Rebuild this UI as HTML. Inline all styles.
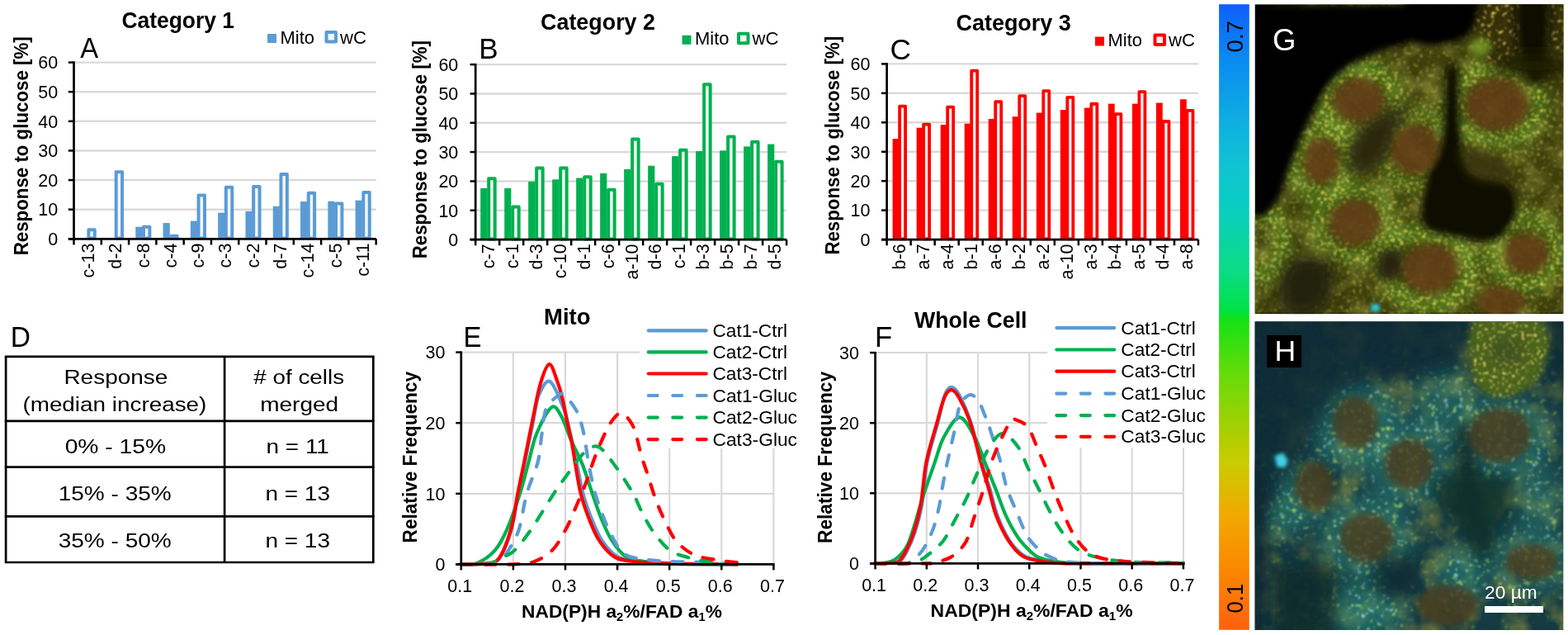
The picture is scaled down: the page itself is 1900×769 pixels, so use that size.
<!DOCTYPE html>
<html><head><meta charset="utf-8"><title>Figure</title>
<style>html,body{margin:0;padding:0;background:#fff;} svg{display:block;}</style>
</head><body>
<svg width="1900" height="769" viewBox="0 0 1900 769" font-family="'Liberation Sans', sans-serif">
<rect width="1900" height="769" fill="#fff"/>
<line x1="90.80" y1="253.68" x2="455.70" y2="253.68" stroke="#d9d9d9" stroke-width="2.4"/>
<line x1="90.80" y1="218.06" x2="455.70" y2="218.06" stroke="#d9d9d9" stroke-width="2.4"/>
<line x1="90.80" y1="182.44" x2="455.70" y2="182.44" stroke="#d9d9d9" stroke-width="2.4"/>
<line x1="90.80" y1="146.82" x2="455.70" y2="146.82" stroke="#d9d9d9" stroke-width="2.4"/>
<line x1="90.80" y1="111.20" x2="455.70" y2="111.20" stroke="#d9d9d9" stroke-width="2.4"/>
<line x1="90.80" y1="75.58" x2="455.70" y2="75.58" stroke="#d9d9d9" stroke-width="2.4"/>
<rect x="107.40" y="278.30" width="7.40" height="10.30" fill="#f4f8fd" stroke="#5b9bd5" stroke-width="4.0" stroke-linejoin="round"/>
<rect x="140.69" y="208.13" width="7.40" height="80.47" fill="#f4f8fd" stroke="#5b9bd5" stroke-width="4.0" stroke-linejoin="round"/>
<rect x="164.28" y="274.70" width="8.20" height="14.60" fill="#5b9bd5"/>
<rect x="173.98" y="274.74" width="7.40" height="13.86" fill="#f4f8fd" stroke="#5b9bd5" stroke-width="4.0" stroke-linejoin="round"/>
<rect x="197.57" y="270.07" width="8.20" height="19.23" fill="#5b9bd5"/>
<rect x="207.27" y="285.78" width="7.40" height="2.82" fill="#f4f8fd" stroke="#5b9bd5" stroke-width="4.0" stroke-linejoin="round"/>
<rect x="230.86" y="267.57" width="8.20" height="21.73" fill="#5b9bd5"/>
<rect x="240.56" y="236.62" width="7.40" height="51.98" fill="#f4f8fd" stroke="#5b9bd5" stroke-width="4.0" stroke-linejoin="round"/>
<rect x="264.15" y="257.60" width="8.20" height="31.70" fill="#5b9bd5"/>
<rect x="273.85" y="226.65" width="7.40" height="61.95" fill="#f4f8fd" stroke="#5b9bd5" stroke-width="4.0" stroke-linejoin="round"/>
<rect x="297.45" y="255.82" width="8.20" height="33.48" fill="#5b9bd5"/>
<rect x="307.15" y="225.94" width="7.40" height="62.66" fill="#f4f8fd" stroke="#5b9bd5" stroke-width="4.0" stroke-linejoin="round"/>
<rect x="330.74" y="249.76" width="8.20" height="39.54" fill="#5b9bd5"/>
<rect x="340.44" y="210.98" width="7.40" height="77.62" fill="#f4f8fd" stroke="#5b9bd5" stroke-width="4.0" stroke-linejoin="round"/>
<rect x="364.03" y="244.06" width="8.20" height="45.24" fill="#5b9bd5"/>
<rect x="373.73" y="233.77" width="7.40" height="54.83" fill="#f4f8fd" stroke="#5b9bd5" stroke-width="4.0" stroke-linejoin="round"/>
<rect x="397.32" y="243.71" width="8.20" height="45.59" fill="#5b9bd5"/>
<rect x="407.02" y="246.60" width="7.40" height="42.00" fill="#f4f8fd" stroke="#5b9bd5" stroke-width="4.0" stroke-linejoin="round"/>
<rect x="430.61" y="242.64" width="8.20" height="46.66" fill="#5b9bd5"/>
<rect x="440.31" y="233.06" width="7.40" height="55.54" fill="#f4f8fd" stroke="#5b9bd5" stroke-width="4.0" stroke-linejoin="round"/>
<line x1="89.50" y1="74.38" x2="89.50" y2="290.60" stroke="#000" stroke-width="2.7"/>
<line x1="82.80" y1="289.30" x2="455.70" y2="289.30" stroke="#000" stroke-width="2.7"/>
<line x1="82.80" y1="289.30" x2="89.50" y2="289.30" stroke="#000" stroke-width="2.5"/>
<text x="70.2" y="297.0" font-size="21.5" text-anchor="end">0</text>
<line x1="82.80" y1="253.68" x2="89.50" y2="253.68" stroke="#000" stroke-width="2.5"/>
<text x="70.2" y="261.4" font-size="21.5" text-anchor="end">10</text>
<line x1="82.80" y1="218.06" x2="89.50" y2="218.06" stroke="#000" stroke-width="2.5"/>
<text x="70.2" y="225.8" font-size="21.5" text-anchor="end">20</text>
<line x1="82.80" y1="182.44" x2="89.50" y2="182.44" stroke="#000" stroke-width="2.5"/>
<text x="70.2" y="190.1" font-size="21.5" text-anchor="end">30</text>
<line x1="82.80" y1="146.82" x2="89.50" y2="146.82" stroke="#000" stroke-width="2.5"/>
<text x="70.2" y="154.5" font-size="21.5" text-anchor="end">40</text>
<line x1="82.80" y1="111.20" x2="89.50" y2="111.20" stroke="#000" stroke-width="2.5"/>
<text x="70.2" y="118.9" font-size="21.5" text-anchor="end">50</text>
<line x1="82.80" y1="75.58" x2="89.50" y2="75.58" stroke="#000" stroke-width="2.5"/>
<text x="70.2" y="83.3" font-size="21.5" text-anchor="end">60</text>
<line x1="89.50" y1="289.30" x2="89.50" y2="296.50" stroke="#000" stroke-width="2.5"/>
<line x1="122.79" y1="289.30" x2="122.79" y2="296.50" stroke="#000" stroke-width="2.5"/>
<line x1="156.08" y1="289.30" x2="156.08" y2="296.50" stroke="#000" stroke-width="2.5"/>
<line x1="189.37" y1="289.30" x2="189.37" y2="296.50" stroke="#000" stroke-width="2.5"/>
<line x1="222.66" y1="289.30" x2="222.66" y2="296.50" stroke="#000" stroke-width="2.5"/>
<line x1="255.95" y1="289.30" x2="255.95" y2="296.50" stroke="#000" stroke-width="2.5"/>
<line x1="289.25" y1="289.30" x2="289.25" y2="296.50" stroke="#000" stroke-width="2.5"/>
<line x1="322.54" y1="289.30" x2="322.54" y2="296.50" stroke="#000" stroke-width="2.5"/>
<line x1="355.83" y1="289.30" x2="355.83" y2="296.50" stroke="#000" stroke-width="2.5"/>
<line x1="389.12" y1="289.30" x2="389.12" y2="296.50" stroke="#000" stroke-width="2.5"/>
<line x1="422.41" y1="289.30" x2="422.41" y2="296.50" stroke="#000" stroke-width="2.5"/>
<line x1="455.70" y1="289.30" x2="455.70" y2="296.50" stroke="#000" stroke-width="2.5"/>
<text x="114.0" y="294.6" font-size="21.5" text-anchor="end" transform="rotate(-90 114.0 294.6)">c-13</text>
<text x="147.3" y="294.6" font-size="21.5" text-anchor="end" transform="rotate(-90 147.3 294.6)">d-2</text>
<text x="180.6" y="294.6" font-size="21.5" text-anchor="end" transform="rotate(-90 180.6 294.6)">c-8</text>
<text x="213.9" y="294.6" font-size="21.5" text-anchor="end" transform="rotate(-90 213.9 294.6)">c-4</text>
<text x="247.2" y="294.6" font-size="21.5" text-anchor="end" transform="rotate(-90 247.2 294.6)">c-9</text>
<text x="280.5" y="294.6" font-size="21.5" text-anchor="end" transform="rotate(-90 280.5 294.6)">c-3</text>
<text x="313.8" y="294.6" font-size="21.5" text-anchor="end" transform="rotate(-90 313.8 294.6)">c-2</text>
<text x="347.1" y="294.6" font-size="21.5" text-anchor="end" transform="rotate(-90 347.1 294.6)">d-7</text>
<text x="380.4" y="294.6" font-size="21.5" text-anchor="end" transform="rotate(-90 380.4 294.6)">c-14</text>
<text x="413.7" y="294.6" font-size="21.5" text-anchor="end" transform="rotate(-90 413.7 294.6)">c-5</text>
<text x="447.0" y="294.6" font-size="21.5" text-anchor="end" transform="rotate(-90 447.0 294.6)">c-11</text>
<text x="34.2" y="309.3" font-size="23.5" text-anchor="start" font-weight="bold" textLength="265.0" lengthAdjust="spacingAndGlyphs" transform="rotate(-90 34.2 309.3)">Response to glucose [%]</text>
<text x="97.3" y="70.4" font-size="35.5" text-anchor="start" textLength="21.9" lengthAdjust="spacingAndGlyphs">A</text>
<text x="147.5" y="34.4" font-size="27" text-anchor="start" font-weight="bold" textLength="136.5" lengthAdjust="spacingAndGlyphs">Category 1</text>
<rect x="324.0" y="41.0" width="11" height="11" fill="#5b9bd5"/>
<text x="339.5" y="52.5" font-size="22.5" text-anchor="start" textLength="41.5" lengthAdjust="spacingAndGlyphs">Mito</text>
<rect x="395.5" y="39.0" width="11.5" height="11.5" fill="#f4f8fd" stroke="#5b9bd5" stroke-width="4" stroke-linejoin="round"/>
<text x="412.0" y="52.5" font-size="22.5" text-anchor="start" textLength="32.0" lengthAdjust="spacingAndGlyphs">wC</text>
<line x1="577.50" y1="254.77" x2="953.10" y2="254.77" stroke="#d9d9d9" stroke-width="2.4"/>
<line x1="577.50" y1="219.44" x2="953.10" y2="219.44" stroke="#d9d9d9" stroke-width="2.4"/>
<line x1="577.50" y1="184.11" x2="953.10" y2="184.11" stroke="#d9d9d9" stroke-width="2.4"/>
<line x1="577.50" y1="148.78" x2="953.10" y2="148.78" stroke="#d9d9d9" stroke-width="2.4"/>
<line x1="577.50" y1="113.45" x2="953.10" y2="113.45" stroke="#d9d9d9" stroke-width="2.4"/>
<line x1="577.50" y1="78.12" x2="953.10" y2="78.12" stroke="#d9d9d9" stroke-width="2.4"/>
<rect x="582.20" y="227.92" width="8.20" height="62.18" fill="#00b050"/>
<rect x="592.20" y="216.32" width="7.50" height="73.08" fill="#f2fcf2" stroke="#00b050" stroke-width="4.0" stroke-linejoin="round"/>
<rect x="611.19" y="227.92" width="8.20" height="62.18" fill="#00b050"/>
<rect x="621.19" y="250.59" width="7.50" height="38.81" fill="#f2fcf2" stroke="#00b050" stroke-width="4.0" stroke-linejoin="round"/>
<rect x="640.18" y="219.79" width="8.20" height="70.31" fill="#00b050"/>
<rect x="650.18" y="203.60" width="7.50" height="85.80" fill="#f2fcf2" stroke="#00b050" stroke-width="4.0" stroke-linejoin="round"/>
<rect x="669.18" y="217.32" width="8.20" height="72.78" fill="#00b050"/>
<rect x="679.18" y="203.60" width="7.50" height="85.80" fill="#f2fcf2" stroke="#00b050" stroke-width="4.0" stroke-linejoin="round"/>
<rect x="698.17" y="215.55" width="8.20" height="74.55" fill="#00b050"/>
<rect x="708.17" y="214.20" width="7.50" height="75.20" fill="#f2fcf2" stroke="#00b050" stroke-width="4.0" stroke-linejoin="round"/>
<rect x="727.16" y="209.90" width="8.20" height="80.20" fill="#00b050"/>
<rect x="737.16" y="229.74" width="7.50" height="59.66" fill="#f2fcf2" stroke="#00b050" stroke-width="4.0" stroke-linejoin="round"/>
<rect x="756.15" y="204.95" width="8.20" height="85.15" fill="#00b050"/>
<rect x="766.15" y="168.62" width="7.50" height="120.78" fill="#f2fcf2" stroke="#00b050" stroke-width="4.0" stroke-linejoin="round"/>
<rect x="785.15" y="200.72" width="8.20" height="89.38" fill="#00b050"/>
<rect x="795.15" y="222.68" width="7.50" height="66.72" fill="#f2fcf2" stroke="#00b050" stroke-width="4.0" stroke-linejoin="round"/>
<rect x="814.14" y="189.06" width="8.20" height="101.04" fill="#00b050"/>
<rect x="824.14" y="181.69" width="7.50" height="107.71" fill="#f2fcf2" stroke="#00b050" stroke-width="4.0" stroke-linejoin="round"/>
<rect x="843.13" y="183.05" width="8.20" height="107.05" fill="#00b050"/>
<rect x="853.13" y="102.20" width="7.50" height="187.20" fill="#f2fcf2" stroke="#00b050" stroke-width="4.0" stroke-linejoin="round"/>
<rect x="872.12" y="182.34" width="8.20" height="107.76" fill="#00b050"/>
<rect x="882.12" y="165.44" width="7.50" height="123.96" fill="#f2fcf2" stroke="#00b050" stroke-width="4.0" stroke-linejoin="round"/>
<rect x="901.12" y="177.40" width="8.20" height="112.70" fill="#00b050"/>
<rect x="911.12" y="171.80" width="7.50" height="117.60" fill="#f2fcf2" stroke="#00b050" stroke-width="4.0" stroke-linejoin="round"/>
<rect x="930.11" y="174.57" width="8.20" height="115.53" fill="#00b050"/>
<rect x="940.11" y="195.83" width="7.50" height="93.57" fill="#f2fcf2" stroke="#00b050" stroke-width="4.0" stroke-linejoin="round"/>
<line x1="576.20" y1="76.92" x2="576.20" y2="291.40" stroke="#000" stroke-width="2.7"/>
<line x1="569.60" y1="290.10" x2="953.10" y2="290.10" stroke="#000" stroke-width="2.7"/>
<line x1="569.60" y1="290.10" x2="576.20" y2="290.10" stroke="#000" stroke-width="2.5"/>
<text x="555.3" y="297.8" font-size="21.5" text-anchor="end">0</text>
<line x1="569.60" y1="254.77" x2="576.20" y2="254.77" stroke="#000" stroke-width="2.5"/>
<text x="555.3" y="262.5" font-size="21.5" text-anchor="end">10</text>
<line x1="569.60" y1="219.44" x2="576.20" y2="219.44" stroke="#000" stroke-width="2.5"/>
<text x="555.3" y="227.1" font-size="21.5" text-anchor="end">20</text>
<line x1="569.60" y1="184.11" x2="576.20" y2="184.11" stroke="#000" stroke-width="2.5"/>
<text x="555.3" y="191.8" font-size="21.5" text-anchor="end">30</text>
<line x1="569.60" y1="148.78" x2="576.20" y2="148.78" stroke="#000" stroke-width="2.5"/>
<text x="555.3" y="156.5" font-size="21.5" text-anchor="end">40</text>
<line x1="569.60" y1="113.45" x2="576.20" y2="113.45" stroke="#000" stroke-width="2.5"/>
<text x="555.3" y="121.2" font-size="21.5" text-anchor="end">50</text>
<line x1="569.60" y1="78.12" x2="576.20" y2="78.12" stroke="#000" stroke-width="2.5"/>
<text x="555.3" y="85.8" font-size="21.5" text-anchor="end">60</text>
<line x1="576.20" y1="290.10" x2="576.20" y2="297.30" stroke="#000" stroke-width="2.5"/>
<line x1="605.19" y1="290.10" x2="605.19" y2="297.30" stroke="#000" stroke-width="2.5"/>
<line x1="634.18" y1="290.10" x2="634.18" y2="297.30" stroke="#000" stroke-width="2.5"/>
<line x1="663.18" y1="290.10" x2="663.18" y2="297.30" stroke="#000" stroke-width="2.5"/>
<line x1="692.17" y1="290.10" x2="692.17" y2="297.30" stroke="#000" stroke-width="2.5"/>
<line x1="721.16" y1="290.10" x2="721.16" y2="297.30" stroke="#000" stroke-width="2.5"/>
<line x1="750.15" y1="290.10" x2="750.15" y2="297.30" stroke="#000" stroke-width="2.5"/>
<line x1="779.15" y1="290.10" x2="779.15" y2="297.30" stroke="#000" stroke-width="2.5"/>
<line x1="808.14" y1="290.10" x2="808.14" y2="297.30" stroke="#000" stroke-width="2.5"/>
<line x1="837.13" y1="290.10" x2="837.13" y2="297.30" stroke="#000" stroke-width="2.5"/>
<line x1="866.12" y1="290.10" x2="866.12" y2="297.30" stroke="#000" stroke-width="2.5"/>
<line x1="895.12" y1="290.10" x2="895.12" y2="297.30" stroke="#000" stroke-width="2.5"/>
<line x1="924.11" y1="290.10" x2="924.11" y2="297.30" stroke="#000" stroke-width="2.5"/>
<line x1="953.10" y1="290.10" x2="953.10" y2="297.30" stroke="#000" stroke-width="2.5"/>
<text x="598.6" y="295.4" font-size="21.5" text-anchor="end" transform="rotate(-90 598.6 295.4)">c-7</text>
<text x="627.6" y="295.4" font-size="21.5" text-anchor="end" transform="rotate(-90 627.6 295.4)">c-1</text>
<text x="656.6" y="295.4" font-size="21.5" text-anchor="end" transform="rotate(-90 656.6 295.4)">d-3</text>
<text x="685.6" y="295.4" font-size="21.5" text-anchor="end" transform="rotate(-90 685.6 295.4)">c-10</text>
<text x="714.6" y="295.4" font-size="21.5" text-anchor="end" transform="rotate(-90 714.6 295.4)">d-1</text>
<text x="743.6" y="295.4" font-size="21.5" text-anchor="end" transform="rotate(-90 743.6 295.4)">c-6</text>
<text x="772.6" y="295.4" font-size="21.5" text-anchor="end" transform="rotate(-90 772.6 295.4)">a-10</text>
<text x="801.5" y="295.4" font-size="21.5" text-anchor="end" transform="rotate(-90 801.5 295.4)">d-6</text>
<text x="830.5" y="295.4" font-size="21.5" text-anchor="end" transform="rotate(-90 830.5 295.4)">c-1</text>
<text x="859.5" y="295.4" font-size="21.5" text-anchor="end" transform="rotate(-90 859.5 295.4)">b-3</text>
<text x="888.5" y="295.4" font-size="21.5" text-anchor="end" transform="rotate(-90 888.5 295.4)">b-5</text>
<text x="917.5" y="295.4" font-size="21.5" text-anchor="end" transform="rotate(-90 917.5 295.4)">b-7</text>
<text x="946.5" y="295.4" font-size="21.5" text-anchor="end" transform="rotate(-90 946.5 295.4)">d-5</text>
<text x="517.0" y="313.2" font-size="23.5" text-anchor="start" font-weight="bold" textLength="264.0" lengthAdjust="spacingAndGlyphs" transform="rotate(-90 517.0 313.2)">Response to glucose [%]</text>
<text x="580.3" y="71.4" font-size="35.5" text-anchor="start" textLength="23.4" lengthAdjust="spacingAndGlyphs">B</text>
<text x="655.0" y="36.0" font-size="27" text-anchor="start" font-weight="bold" textLength="139.0" lengthAdjust="spacingAndGlyphs">Category 2</text>
<rect x="826.5" y="42.8" width="11" height="11" fill="#00b050"/>
<text x="842.0" y="54.3" font-size="22.5" text-anchor="start" textLength="41.5" lengthAdjust="spacingAndGlyphs">Mito</text>
<rect x="895.0" y="40.8" width="11.5" height="11.5" fill="#f2fcf2" stroke="#00b050" stroke-width="4" stroke-linejoin="round"/>
<text x="911.5" y="54.3" font-size="22.5" text-anchor="start" textLength="32.0" lengthAdjust="spacingAndGlyphs">wC</text>
<line x1="1075.90" y1="254.65" x2="1452.00" y2="254.65" stroke="#d9d9d9" stroke-width="2.4"/>
<line x1="1075.90" y1="219.20" x2="1452.00" y2="219.20" stroke="#d9d9d9" stroke-width="2.4"/>
<line x1="1075.90" y1="183.75" x2="1452.00" y2="183.75" stroke="#d9d9d9" stroke-width="2.4"/>
<line x1="1075.90" y1="148.30" x2="1452.00" y2="148.30" stroke="#d9d9d9" stroke-width="2.4"/>
<line x1="1075.90" y1="112.85" x2="1452.00" y2="112.85" stroke="#d9d9d9" stroke-width="2.4"/>
<line x1="1075.90" y1="77.40" x2="1452.00" y2="77.40" stroke="#d9d9d9" stroke-width="2.4"/>
<rect x="1081.60" y="168.15" width="7.80" height="121.95" fill="#ff0000"/>
<rect x="1090.10" y="128.58" width="7.00" height="160.82" fill="#fff6f4" stroke="#ff0000" stroke-width="3.8" stroke-linejoin="round"/>
<rect x="1110.63" y="154.68" width="7.80" height="135.42" fill="#ff0000"/>
<rect x="1119.13" y="150.55" width="7.00" height="138.85" fill="#fff6f4" stroke="#ff0000" stroke-width="3.8" stroke-linejoin="round"/>
<rect x="1139.66" y="151.14" width="7.80" height="138.96" fill="#ff0000"/>
<rect x="1148.16" y="129.64" width="7.00" height="159.76" fill="#fff6f4" stroke="#ff0000" stroke-width="3.8" stroke-linejoin="round"/>
<rect x="1168.69" y="149.72" width="7.80" height="140.38" fill="#ff0000"/>
<rect x="1177.19" y="85.68" width="7.00" height="203.72" fill="#fff6f4" stroke="#ff0000" stroke-width="3.8" stroke-linejoin="round"/>
<rect x="1197.72" y="144.05" width="7.80" height="146.05" fill="#ff0000"/>
<rect x="1206.22" y="123.26" width="7.00" height="166.14" fill="#fff6f4" stroke="#ff0000" stroke-width="3.8" stroke-linejoin="round"/>
<rect x="1226.75" y="141.21" width="7.80" height="148.89" fill="#ff0000"/>
<rect x="1235.25" y="116.17" width="7.00" height="173.23" fill="#fff6f4" stroke="#ff0000" stroke-width="3.8" stroke-linejoin="round"/>
<rect x="1255.78" y="136.60" width="7.80" height="153.50" fill="#ff0000"/>
<rect x="1264.28" y="110.14" width="7.00" height="179.26" fill="#fff6f4" stroke="#ff0000" stroke-width="3.8" stroke-linejoin="round"/>
<rect x="1284.82" y="133.06" width="7.80" height="157.04" fill="#ff0000"/>
<rect x="1293.32" y="117.94" width="7.00" height="171.46" fill="#fff6f4" stroke="#ff0000" stroke-width="3.8" stroke-linejoin="round"/>
<rect x="1313.85" y="130.58" width="7.80" height="159.53" fill="#ff0000"/>
<rect x="1322.35" y="125.74" width="7.00" height="163.66" fill="#fff6f4" stroke="#ff0000" stroke-width="3.8" stroke-linejoin="round"/>
<rect x="1342.88" y="125.61" width="7.80" height="164.49" fill="#ff0000"/>
<rect x="1351.38" y="138.15" width="7.00" height="151.25" fill="#fff6f4" stroke="#ff0000" stroke-width="3.8" stroke-linejoin="round"/>
<rect x="1371.91" y="125.61" width="7.80" height="164.49" fill="#ff0000"/>
<rect x="1380.41" y="111.21" width="7.00" height="178.19" fill="#fff6f4" stroke="#ff0000" stroke-width="3.8" stroke-linejoin="round"/>
<rect x="1400.94" y="124.55" width="7.80" height="165.55" fill="#ff0000"/>
<rect x="1409.44" y="147.01" width="7.00" height="142.39" fill="#fff6f4" stroke="#ff0000" stroke-width="3.8" stroke-linejoin="round"/>
<rect x="1429.97" y="120.29" width="7.80" height="169.81" fill="#ff0000"/>
<rect x="1438.47" y="133.89" width="7.00" height="155.51" fill="#fff6f4" stroke="#ff0000" stroke-width="3.8" stroke-linejoin="round"/>
<line x1="1074.60" y1="76.20" x2="1074.60" y2="291.40" stroke="#000" stroke-width="2.7"/>
<line x1="1068.00" y1="290.10" x2="1452.00" y2="290.10" stroke="#000" stroke-width="2.7"/>
<line x1="1068.00" y1="290.10" x2="1074.60" y2="290.10" stroke="#000" stroke-width="2.5"/>
<text x="1054.4" y="297.8" font-size="21.5" text-anchor="end">0</text>
<line x1="1068.00" y1="254.65" x2="1074.60" y2="254.65" stroke="#000" stroke-width="2.5"/>
<text x="1054.4" y="262.4" font-size="21.5" text-anchor="end">10</text>
<line x1="1068.00" y1="219.20" x2="1074.60" y2="219.20" stroke="#000" stroke-width="2.5"/>
<text x="1054.4" y="226.9" font-size="21.5" text-anchor="end">20</text>
<line x1="1068.00" y1="183.75" x2="1074.60" y2="183.75" stroke="#000" stroke-width="2.5"/>
<text x="1054.4" y="191.5" font-size="21.5" text-anchor="end">30</text>
<line x1="1068.00" y1="148.30" x2="1074.60" y2="148.30" stroke="#000" stroke-width="2.5"/>
<text x="1054.4" y="156.0" font-size="21.5" text-anchor="end">40</text>
<line x1="1068.00" y1="112.85" x2="1074.60" y2="112.85" stroke="#000" stroke-width="2.5"/>
<text x="1054.4" y="120.6" font-size="21.5" text-anchor="end">50</text>
<line x1="1068.00" y1="77.40" x2="1074.60" y2="77.40" stroke="#000" stroke-width="2.5"/>
<text x="1054.4" y="85.1" font-size="21.5" text-anchor="end">60</text>
<line x1="1074.60" y1="290.10" x2="1074.60" y2="297.30" stroke="#000" stroke-width="2.5"/>
<line x1="1103.63" y1="290.10" x2="1103.63" y2="297.30" stroke="#000" stroke-width="2.5"/>
<line x1="1132.66" y1="290.10" x2="1132.66" y2="297.30" stroke="#000" stroke-width="2.5"/>
<line x1="1161.69" y1="290.10" x2="1161.69" y2="297.30" stroke="#000" stroke-width="2.5"/>
<line x1="1190.72" y1="290.10" x2="1190.72" y2="297.30" stroke="#000" stroke-width="2.5"/>
<line x1="1219.75" y1="290.10" x2="1219.75" y2="297.30" stroke="#000" stroke-width="2.5"/>
<line x1="1248.78" y1="290.10" x2="1248.78" y2="297.30" stroke="#000" stroke-width="2.5"/>
<line x1="1277.82" y1="290.10" x2="1277.82" y2="297.30" stroke="#000" stroke-width="2.5"/>
<line x1="1306.85" y1="290.10" x2="1306.85" y2="297.30" stroke="#000" stroke-width="2.5"/>
<line x1="1335.88" y1="290.10" x2="1335.88" y2="297.30" stroke="#000" stroke-width="2.5"/>
<line x1="1364.91" y1="290.10" x2="1364.91" y2="297.30" stroke="#000" stroke-width="2.5"/>
<line x1="1393.94" y1="290.10" x2="1393.94" y2="297.30" stroke="#000" stroke-width="2.5"/>
<line x1="1422.97" y1="290.10" x2="1422.97" y2="297.30" stroke="#000" stroke-width="2.5"/>
<line x1="1452.00" y1="290.10" x2="1452.00" y2="297.30" stroke="#000" stroke-width="2.5"/>
<text x="1097.0" y="295.4" font-size="21.5" text-anchor="end" transform="rotate(-90 1097.0 295.4)">b-6</text>
<text x="1126.0" y="295.4" font-size="21.5" text-anchor="end" transform="rotate(-90 1126.0 295.4)">a-7</text>
<text x="1155.1" y="295.4" font-size="21.5" text-anchor="end" transform="rotate(-90 1155.1 295.4)">a-4</text>
<text x="1184.1" y="295.4" font-size="21.5" text-anchor="end" transform="rotate(-90 1184.1 295.4)">b-1</text>
<text x="1213.1" y="295.4" font-size="21.5" text-anchor="end" transform="rotate(-90 1213.1 295.4)">a-6</text>
<text x="1242.2" y="295.4" font-size="21.5" text-anchor="end" transform="rotate(-90 1242.2 295.4)">b-2</text>
<text x="1271.2" y="295.4" font-size="21.5" text-anchor="end" transform="rotate(-90 1271.2 295.4)">a-2</text>
<text x="1300.2" y="295.4" font-size="21.5" text-anchor="end" transform="rotate(-90 1300.2 295.4)">a-10</text>
<text x="1329.3" y="295.4" font-size="21.5" text-anchor="end" transform="rotate(-90 1329.3 295.4)">a-3</text>
<text x="1358.3" y="295.4" font-size="21.5" text-anchor="end" transform="rotate(-90 1358.3 295.4)">b-4</text>
<text x="1387.3" y="295.4" font-size="21.5" text-anchor="end" transform="rotate(-90 1387.3 295.4)">a-5</text>
<text x="1416.4" y="295.4" font-size="21.5" text-anchor="end" transform="rotate(-90 1416.4 295.4)">d-4</text>
<text x="1445.4" y="295.4" font-size="21.5" text-anchor="end" transform="rotate(-90 1445.4 295.4)">a-8</text>
<text x="1017.0" y="308.6" font-size="23.5" text-anchor="start" font-weight="bold" textLength="264.8" lengthAdjust="spacingAndGlyphs" transform="rotate(-90 1017.0 308.6)">Response to glucose [%]</text>
<text x="1078.5" y="72.2" font-size="35.5" text-anchor="start" textLength="25.4" lengthAdjust="spacingAndGlyphs">C</text>
<text x="1158.4" y="36.5" font-size="27" text-anchor="start" font-weight="bold" textLength="139.5" lengthAdjust="spacingAndGlyphs">Category 3</text>
<rect x="1327.0" y="44.5" width="11" height="11" fill="#ff0000"/>
<text x="1342.5" y="56.0" font-size="22.5" text-anchor="start" textLength="41.5" lengthAdjust="spacingAndGlyphs">Mito</text>
<rect x="1399.5" y="42.5" width="11.5" height="11.5" fill="#fff6f4" stroke="#ff0000" stroke-width="4" stroke-linejoin="round"/>
<text x="1416.0" y="56.0" font-size="22.5" text-anchor="start" textLength="32.0" lengthAdjust="spacingAndGlyphs">wC</text>
<text x="12.7" y="419.9" font-size="35.5" text-anchor="start" textLength="24.2" lengthAdjust="spacingAndGlyphs">D</text>
<line x1="5.80" y1="431.90" x2="453.60" y2="431.90" stroke="#000" stroke-width="2.7"/>
<line x1="5.80" y1="509.80" x2="453.60" y2="509.80" stroke="#000" stroke-width="2.7"/>
<line x1="5.80" y1="565.60" x2="453.60" y2="565.60" stroke="#000" stroke-width="2.7"/>
<line x1="5.80" y1="625.30" x2="453.60" y2="625.30" stroke="#000" stroke-width="2.7"/>
<line x1="5.80" y1="681.00" x2="453.60" y2="681.00" stroke="#000" stroke-width="2.7"/>
<line x1="7.10" y1="431.90" x2="7.10" y2="681.00" stroke="#000" stroke-width="2.7"/>
<line x1="272.10" y1="431.90" x2="272.10" y2="681.00" stroke="#000" stroke-width="2.7"/>
<line x1="452.30" y1="431.90" x2="452.30" y2="681.00" stroke="#000" stroke-width="2.7"/>
<text x="140.4" y="464.6" font-size="24.8" text-anchor="middle" textLength="126.0" lengthAdjust="spacingAndGlyphs">Response</text>
<text x="138.9" y="497.8" font-size="24.8" text-anchor="middle" textLength="223.0" lengthAdjust="spacingAndGlyphs">(median increase)</text>
<text x="362.2" y="464.6" font-size="24.8" text-anchor="middle" textLength="110.0" lengthAdjust="spacingAndGlyphs"># of cells</text>
<text x="362.7" y="497.8" font-size="24.8" text-anchor="middle" textLength="95.0" lengthAdjust="spacingAndGlyphs">merged</text>
<text x="139.9" y="548.8" font-size="24.8" text-anchor="middle" textLength="122.5" lengthAdjust="spacingAndGlyphs">0% - 15%</text>
<text x="360.7" y="548.8" font-size="24.8" text-anchor="middle" textLength="76.5" lengthAdjust="spacingAndGlyphs">n = 11</text>
<text x="139.2" y="606.0" font-size="24.8" text-anchor="middle" textLength="137.0" lengthAdjust="spacingAndGlyphs">15% - 35%</text>
<text x="360.7" y="606.0" font-size="24.8" text-anchor="middle" textLength="78.5" lengthAdjust="spacingAndGlyphs">n = 13</text>
<text x="139.2" y="663.2" font-size="24.8" text-anchor="middle" textLength="137.0" lengthAdjust="spacingAndGlyphs">35% - 50%</text>
<text x="360.7" y="663.2" font-size="24.8" text-anchor="middle" textLength="78.5" lengthAdjust="spacingAndGlyphs">n = 13</text>
<line x1="621.90" y1="426.60" x2="621.90" y2="683.40" stroke="#d9d9d9" stroke-width="2.2"/>
<line x1="685.00" y1="426.60" x2="685.00" y2="683.40" stroke="#d9d9d9" stroke-width="2.2"/>
<line x1="748.10" y1="426.60" x2="748.10" y2="683.40" stroke="#d9d9d9" stroke-width="2.2"/>
<line x1="811.20" y1="426.60" x2="811.20" y2="683.40" stroke="#d9d9d9" stroke-width="2.2"/>
<line x1="874.30" y1="426.60" x2="874.30" y2="683.40" stroke="#d9d9d9" stroke-width="2.2"/>
<line x1="937.40" y1="426.60" x2="937.40" y2="683.40" stroke="#d9d9d9" stroke-width="2.2"/>
<line x1="559.80" y1="597.80" x2="937.40" y2="597.80" stroke="#d9d9d9" stroke-width="2.2"/>
<line x1="559.80" y1="512.20" x2="937.40" y2="512.20" stroke="#d9d9d9" stroke-width="2.2"/>
<line x1="559.80" y1="426.60" x2="937.40" y2="426.60" stroke="#d9d9d9" stroke-width="2.2"/>
<rect x="775" y="383" width="200" height="160" fill="#fff"/>
<path d="M558.80,683.40 C564.06,683.19 582.57,683.40 590.35,682.12 C598.13,680.83 600.59,682.54 605.49,675.70 C610.39,668.85 616.02,654.01 619.75,641.03 C623.49,628.05 625.24,611.14 627.89,597.80 C630.54,584.46 632.68,575.26 635.66,560.99 C638.63,546.73 642.89,525.90 645.75,512.20 C648.61,498.50 649.36,487.16 652.82,478.82 C656.28,470.47 661.46,459.41 666.51,462.12 C671.56,464.83 679.18,485.31 683.11,495.08 C687.03,504.85 687.42,509.77 690.05,520.76 C692.68,531.75 696.15,548.15 698.88,560.99 C701.62,573.83 703.40,586.47 706.45,597.80 C709.50,609.13 713.29,619.40 717.18,628.96 C721.07,638.52 724.65,647.65 729.80,655.15 C734.95,662.66 740.84,669.99 748.10,673.98 C755.36,677.98 762.82,677.76 773.34,679.12 C783.86,680.48 794.37,681.43 811.20,682.12 C828.03,682.80 860.63,683.01 874.30,683.23 C887.97,683.44 890.08,683.37 893.23,683.40" fill="none" stroke="#5b9bd5" stroke-width="4.2" stroke-linejoin="round" stroke-linecap="round"/>
<path d="M558.80,683.40 C561.95,683.19 570.89,684.97 577.73,682.12 C584.57,679.26 593.72,673.13 599.81,666.28 C605.91,659.43 609.29,652.44 614.33,641.03 C619.37,629.61 625.73,611.14 630.04,597.80 C634.35,584.46 636.82,573.12 640.20,560.99 C643.57,548.87 645.63,536.31 650.29,525.04 C654.96,513.77 663.27,496.93 668.22,493.37 C673.16,489.80 675.89,496.79 679.95,503.64 C684.01,510.49 688.31,524.75 692.57,534.46 C696.83,544.16 701.30,551.29 705.51,561.85 C709.71,572.41 713.90,586.61 717.81,597.80 C721.72,608.99 724.98,619.40 728.98,628.96 C732.98,638.52 736.82,647.58 741.79,655.15 C746.76,662.73 752.52,670.27 758.83,674.41 C765.14,678.55 770.92,678.62 779.65,679.98 C788.38,681.33 792.27,681.97 811.20,682.54 C830.13,683.11 879.56,683.26 893.23,683.40" fill="none" stroke="#00b050" stroke-width="4.2" stroke-linejoin="round" stroke-linecap="round"/>
<path d="M558.80,683.40 C563.01,683.33 576.57,683.97 584.04,682.97 C591.51,681.97 597.75,684.40 603.60,677.41 C609.45,670.42 615.17,654.30 619.12,641.03 C623.08,627.76 624.70,611.14 627.33,597.80 C629.96,584.46 632.02,575.26 634.90,560.99 C637.78,546.73 641.31,528.18 644.62,512.20 C647.92,496.22 651.21,476.96 654.71,465.12 C658.21,453.28 662.16,441.58 665.63,441.15 C669.10,440.72 672.83,455.42 675.53,462.55 C678.24,469.69 679.85,475.68 681.84,483.95 C683.84,492.23 685.74,503.78 687.52,512.20 C689.31,520.62 690.99,526.32 692.57,534.46 C694.15,542.59 695.14,550.43 696.99,560.99 C698.84,571.55 700.84,586.47 703.68,597.80 C706.52,609.13 710.24,619.40 714.03,628.96 C717.81,638.52 721.30,647.58 726.39,655.15 C731.48,662.73 737.69,670.27 744.57,674.41 C751.44,678.55 756.56,678.62 767.66,679.98 C778.77,681.33 793.43,682.00 811.20,682.54 C828.97,683.09 860.63,683.09 874.30,683.23 C887.97,683.37 890.08,683.37 893.23,683.40" fill="none" stroke="#ff0000" stroke-width="4.2" stroke-linejoin="round" stroke-linecap="round"/>
<path d="M558.80,683.40 C564.06,683.33 582.46,683.83 590.35,682.97 C598.24,682.12 601.81,681.05 606.12,678.26 C610.44,675.48 612.44,672.49 616.22,666.28 C620.01,660.07 625.16,652.44 628.84,641.03 C632.52,629.61 634.52,611.28 638.31,597.80 C642.09,584.32 648.61,571.41 651.56,560.14 C654.50,548.87 654.65,539.59 655.97,530.18 C657.30,520.76 658.06,510.35 659.51,503.64 C660.96,496.93 661.33,494.37 664.68,489.94 C668.04,485.52 675.97,478.53 679.64,477.10 C683.31,475.68 683.78,478.39 686.70,481.38 C689.63,484.38 694.55,490.80 697.18,495.08 C699.81,499.36 700.72,501.79 702.48,507.06 C704.23,512.34 705.90,517.62 707.72,526.75 C709.54,535.88 711.50,551.43 713.39,561.85 C715.29,572.26 717.12,581.25 719.07,589.24 C721.03,597.23 721.77,600.51 725.13,609.78 C728.50,619.06 734.07,634.75 739.27,644.88 C744.46,655.01 749.36,665.14 756.30,670.56 C763.24,675.98 771.76,675.84 780.91,677.41 C790.06,678.98 800.37,679.41 811.20,679.98 C822.03,680.55 835.39,680.33 845.90,680.83 C856.42,681.33 866.41,682.54 874.30,682.97 C882.19,683.40 890.08,683.33 893.23,683.40" fill="none" stroke="#5b9bd5" stroke-width="4.2" stroke-linejoin="round" stroke-dasharray="13 15.5" stroke-linecap="round"/>
<path d="M558.80,683.40 C564.06,683.33 581.62,684.54 590.35,682.97 C599.08,681.40 605.60,676.77 611.17,673.98 C616.75,671.20 618.38,671.77 623.79,666.28 C629.21,660.79 635.80,652.44 643.67,641.03 C651.54,629.61 664.10,608.29 670.99,597.80 C677.88,587.31 678.98,586.24 685.00,578.11 C691.02,569.98 700.35,555.14 707.08,549.01 C713.82,542.87 718.76,538.45 725.38,541.30 C732.01,544.16 740.74,558.14 746.84,566.13 C752.94,574.12 758.51,583.96 761.98,589.24 C765.45,594.52 764.82,592.24 767.66,597.80 C770.50,603.36 774.81,614.63 779.02,622.62 C783.23,630.61 787.22,638.29 792.90,645.74 C798.58,653.18 805.31,662.17 813.09,667.31 C820.88,672.44 830.97,674.23 839.60,676.55 C848.22,678.88 855.90,680.19 864.83,681.26 C873.77,682.33 888.50,682.69 893.23,682.97" fill="none" stroke="#00b050" stroke-width="4.2" stroke-linejoin="round" stroke-dasharray="13 15.5" stroke-linecap="round"/>
<path d="M558.80,683.40 C569.32,683.40 607.18,683.94 621.90,683.40 C636.62,682.86 639.25,683.00 647.14,680.15 C655.03,677.29 662.81,672.80 669.22,666.28 C675.64,659.76 680.69,650.16 685.63,641.03 C690.57,631.90 694.68,621.27 698.88,611.50 C703.09,601.72 707.19,592.09 710.87,582.39 C714.55,572.69 717.01,563.42 720.97,553.29 C724.92,543.16 730.60,529.61 734.60,521.62 C738.59,513.63 741.90,508.92 744.94,505.35 C747.99,501.79 750.06,499.79 752.90,500.22 C755.74,500.64 759.25,504.35 761.98,507.92 C764.72,511.49 766.78,514.34 769.30,521.62 C771.83,528.89 774.45,542.45 777.13,551.58 C779.80,560.71 782.44,567.55 785.33,576.40 C788.22,585.25 791.22,595.89 794.48,604.65 C797.74,613.41 800.74,620.54 804.89,628.96 C809.04,637.38 813.20,647.93 819.40,655.15 C825.61,662.37 833.18,668.35 842.12,672.27 C851.06,676.20 864.52,677.19 873.04,678.69 C881.56,680.19 889.86,680.83 893.23,681.26" fill="none" stroke="#ff0000" stroke-width="4.2" stroke-linejoin="round" stroke-dasharray="13 15.5" stroke-linecap="round"/>
<line x1="558.80" y1="425.40" x2="558.80" y2="684.70" stroke="#000" stroke-width="2.7"/>
<line x1="552.30" y1="683.40" x2="938.60" y2="683.40" stroke="#000" stroke-width="2.7"/>
<line x1="552.30" y1="683.40" x2="558.80" y2="683.40" stroke="#000" stroke-width="2.5"/>
<text x="539.5" y="691.1" font-size="21.5" text-anchor="end">0</text>
<line x1="552.30" y1="597.80" x2="558.80" y2="597.80" stroke="#000" stroke-width="2.5"/>
<text x="539.5" y="605.5" font-size="21.5" text-anchor="end">10</text>
<line x1="552.30" y1="512.20" x2="558.80" y2="512.20" stroke="#000" stroke-width="2.5"/>
<text x="539.5" y="519.9" font-size="21.5" text-anchor="end">20</text>
<line x1="552.30" y1="426.60" x2="558.80" y2="426.60" stroke="#000" stroke-width="2.5"/>
<text x="539.5" y="434.3" font-size="21.5" text-anchor="end">30</text>
<line x1="558.80" y1="683.40" x2="558.80" y2="690.40" stroke="#000" stroke-width="2.5"/>
<text x="557.3" y="716.7" font-size="21.5" text-anchor="middle">0.1</text>
<line x1="621.90" y1="683.40" x2="621.90" y2="690.40" stroke="#000" stroke-width="2.5"/>
<text x="620.4" y="716.7" font-size="21.5" text-anchor="middle">0.2</text>
<line x1="685.00" y1="683.40" x2="685.00" y2="690.40" stroke="#000" stroke-width="2.5"/>
<text x="683.5" y="716.7" font-size="21.5" text-anchor="middle">0.3</text>
<line x1="748.10" y1="683.40" x2="748.10" y2="690.40" stroke="#000" stroke-width="2.5"/>
<text x="746.6" y="716.7" font-size="21.5" text-anchor="middle">0.4</text>
<line x1="811.20" y1="683.40" x2="811.20" y2="690.40" stroke="#000" stroke-width="2.5"/>
<text x="809.7" y="716.7" font-size="21.5" text-anchor="middle">0.5</text>
<line x1="874.30" y1="683.40" x2="874.30" y2="690.40" stroke="#000" stroke-width="2.5"/>
<text x="872.8" y="716.7" font-size="21.5" text-anchor="middle">0.6</text>
<line x1="937.40" y1="683.40" x2="937.40" y2="690.40" stroke="#000" stroke-width="2.5"/>
<text x="935.9" y="716.7" font-size="21.5" text-anchor="middle">0.7</text>
<text x="632.0" y="748.4" font-size="21.5" font-weight="bold" textLength="243" lengthAdjust="spacingAndGlyphs">NAD(P)H a<tspan font-size="14" dy="4">2</tspan><tspan dy="-4">%/FAD a</tspan><tspan font-size="14" dy="4">1</tspan><tspan dy="-4">%</tspan></text>
<text x="505.0" y="657.4" font-size="23.5" text-anchor="start" font-weight="bold" textLength="207.4" lengthAdjust="spacingAndGlyphs" transform="rotate(-90 505.0 657.4)">Relative Frequency</text>
<text x="561.6" y="419.9" font-size="35.5" text-anchor="start" textLength="22.0" lengthAdjust="spacingAndGlyphs">E</text>
<text x="659.0" y="393.0" font-size="27" text-anchor="start" font-weight="bold" textLength="56.5" lengthAdjust="spacingAndGlyphs">Mito</text>
<line x1="785.80" y1="400.30" x2="855.70" y2="400.30" stroke="#5b9bd5" stroke-width="4.2" stroke-linecap="round"/>
<text x="863.5" y="407.8" font-size="22.5" text-anchor="start" textLength="90.5" lengthAdjust="spacingAndGlyphs">Cat1-Ctrl</text>
<line x1="785.80" y1="426.40" x2="855.70" y2="426.40" stroke="#00b050" stroke-width="4.2" stroke-linecap="round"/>
<text x="863.5" y="433.9" font-size="22.5" text-anchor="start" textLength="90.5" lengthAdjust="spacingAndGlyphs">Cat2-Ctrl</text>
<line x1="785.80" y1="452.50" x2="855.70" y2="452.50" stroke="#ff0000" stroke-width="4.2" stroke-linecap="round"/>
<text x="863.5" y="460.0" font-size="22.5" text-anchor="start" textLength="90.5" lengthAdjust="spacingAndGlyphs">Cat3-Ctrl</text>
<line x1="785.80" y1="479.00" x2="796.60" y2="479.00" stroke="#5b9bd5" stroke-width="4.2" stroke-linecap="round"/>
<line x1="815.35" y1="479.00" x2="826.15" y2="479.00" stroke="#5b9bd5" stroke-width="4.2" stroke-linecap="round"/>
<line x1="844.90" y1="479.00" x2="855.70" y2="479.00" stroke="#5b9bd5" stroke-width="4.2" stroke-linecap="round"/>
<text x="863.5" y="486.5" font-size="22.5" text-anchor="start" textLength="102.5" lengthAdjust="spacingAndGlyphs">Cat1-Gluc</text>
<line x1="785.80" y1="505.60" x2="796.60" y2="505.60" stroke="#00b050" stroke-width="4.2" stroke-linecap="round"/>
<line x1="815.35" y1="505.60" x2="826.15" y2="505.60" stroke="#00b050" stroke-width="4.2" stroke-linecap="round"/>
<line x1="844.90" y1="505.60" x2="855.70" y2="505.60" stroke="#00b050" stroke-width="4.2" stroke-linecap="round"/>
<text x="863.5" y="513.1" font-size="22.5" text-anchor="start" textLength="102.5" lengthAdjust="spacingAndGlyphs">Cat2-Gluc</text>
<line x1="785.80" y1="532.10" x2="796.60" y2="532.10" stroke="#ff0000" stroke-width="4.2" stroke-linecap="round"/>
<line x1="815.35" y1="532.10" x2="826.15" y2="532.10" stroke="#ff0000" stroke-width="4.2" stroke-linecap="round"/>
<line x1="844.90" y1="532.10" x2="855.70" y2="532.10" stroke="#ff0000" stroke-width="4.2" stroke-linecap="round"/>
<text x="863.5" y="539.6" font-size="22.5" text-anchor="start" textLength="102.5" lengthAdjust="spacingAndGlyphs">Cat3-Gluc</text>
<line x1="1122.82" y1="427.10" x2="1122.82" y2="682.40" stroke="#d9d9d9" stroke-width="2.2"/>
<line x1="1185.04" y1="427.10" x2="1185.04" y2="682.40" stroke="#d9d9d9" stroke-width="2.2"/>
<line x1="1247.26" y1="427.10" x2="1247.26" y2="682.40" stroke="#d9d9d9" stroke-width="2.2"/>
<line x1="1309.48" y1="427.10" x2="1309.48" y2="682.40" stroke="#d9d9d9" stroke-width="2.2"/>
<line x1="1371.70" y1="427.10" x2="1371.70" y2="682.40" stroke="#d9d9d9" stroke-width="2.2"/>
<line x1="1433.92" y1="427.10" x2="1433.92" y2="682.40" stroke="#d9d9d9" stroke-width="2.2"/>
<line x1="1061.60" y1="597.30" x2="1433.92" y2="597.30" stroke="#d9d9d9" stroke-width="2.2"/>
<line x1="1061.60" y1="512.20" x2="1433.92" y2="512.20" stroke="#d9d9d9" stroke-width="2.2"/>
<line x1="1061.60" y1="427.10" x2="1433.92" y2="427.10" stroke="#d9d9d9" stroke-width="2.2"/>
<rect x="1269" y="380" width="200" height="162" fill="#fff"/>
<path d="M1060.60,682.40 C1063.71,682.26 1074.29,681.97 1079.27,681.55 C1084.24,681.12 1087.25,682.05 1090.47,679.85 C1093.68,677.65 1095.55,674.17 1098.55,668.36 C1101.56,662.54 1105.40,654.53 1108.51,644.96 C1111.62,635.38 1114.73,625.10 1117.22,610.92 C1119.71,596.73 1120.23,576.45 1123.44,559.86 C1126.66,543.26 1132.93,524.96 1136.51,511.35 C1140.09,497.73 1142.21,485.25 1144.91,478.16 C1147.60,471.07 1149.78,468.80 1152.69,468.80 C1155.59,468.80 1158.39,471.07 1162.33,478.16 C1166.27,485.25 1171.82,497.73 1176.33,511.35 C1180.84,524.96 1185.45,546.10 1189.40,559.86 C1193.34,573.61 1196.76,583.12 1199.97,593.90 C1203.19,604.68 1204.74,614.32 1208.68,624.53 C1212.62,634.74 1218.22,647.08 1223.62,655.17 C1229.01,663.25 1234.50,669.07 1241.04,673.04 C1247.57,677.01 1255.56,677.58 1262.81,679.00 C1270.07,680.41 1276.81,680.98 1284.59,681.55 C1292.37,682.12 1284.59,682.26 1309.48,682.40 C1334.37,682.54 1413.18,682.40 1433.92,682.40" fill="none" stroke="#5b9bd5" stroke-width="4.2" stroke-linejoin="round" stroke-linecap="round"/>
<path d="M1060.60,682.40 C1062.67,682.26 1068.90,682.47 1073.04,681.55 C1077.19,680.63 1081.17,680.20 1085.49,676.87 C1089.80,673.54 1095.01,668.85 1098.93,661.55 C1102.85,654.25 1105.91,642.62 1109.01,633.04 C1112.11,623.47 1113.58,616.31 1117.53,604.11 C1121.48,591.91 1128.35,572.34 1132.71,559.86 C1137.08,547.37 1138.71,538.30 1143.73,529.22 C1148.74,520.14 1156.62,505.39 1162.83,505.39 C1169.04,505.39 1175.89,520.14 1181.00,529.22 C1186.10,538.30 1189.08,549.08 1193.44,559.86 C1197.80,570.64 1202.88,583.12 1207.13,593.90 C1211.38,604.68 1214.44,614.89 1218.95,624.53 C1223.46,634.18 1228.85,644.18 1234.19,651.76 C1239.53,659.35 1246.69,666.09 1250.99,670.06 C1255.30,674.03 1255.45,673.96 1260.02,675.59 C1264.58,677.22 1270.13,678.78 1278.37,679.85 C1286.61,680.91 1283.56,681.55 1309.48,681.97 C1335.40,682.40 1413.18,682.33 1433.92,682.40" fill="none" stroke="#00b050" stroke-width="4.2" stroke-linejoin="round" stroke-linecap="round"/>
<path d="M1060.60,682.40 C1063.40,682.26 1072.73,681.92 1077.40,681.55 C1082.07,681.18 1085.30,682.39 1088.60,680.19 C1091.90,677.99 1094.07,674.23 1097.19,668.36 C1100.30,662.49 1104.16,654.53 1107.26,644.96 C1110.37,635.38 1113.27,625.10 1115.79,610.92 C1118.31,596.73 1119.10,576.45 1122.38,559.86 C1125.67,543.26 1131.86,524.40 1135.51,511.35 C1139.16,498.30 1141.40,488.09 1144.29,481.56 C1147.17,475.04 1149.85,472.20 1152.81,472.20 C1155.77,472.20 1158.22,475.04 1162.02,481.56 C1165.81,488.09 1171.16,498.30 1175.58,511.35 C1180.00,524.40 1184.69,546.10 1188.52,559.86 C1192.36,573.61 1195.50,583.12 1198.60,593.90 C1201.70,604.68 1203.18,614.32 1207.13,624.53 C1211.08,634.74 1216.96,647.01 1222.31,655.17 C1227.66,663.32 1232.95,669.42 1239.23,673.46 C1245.52,677.51 1253.49,678.07 1260.02,679.42 C1266.54,680.77 1270.13,681.05 1278.37,681.55 C1286.61,682.05 1283.56,682.26 1309.48,682.40 C1335.40,682.54 1413.18,682.40 1433.92,682.40" fill="none" stroke="#ff0000" stroke-width="4.2" stroke-linejoin="round" stroke-linecap="round"/>
<path d="M1060.60,682.40 C1066.82,682.40 1089.29,684.03 1097.93,682.40 C1106.57,680.77 1108.60,676.09 1112.43,672.61 C1116.26,669.14 1117.80,667.01 1120.89,661.55 C1123.98,656.09 1128.15,647.72 1130.97,639.85 C1133.79,631.98 1135.84,623.40 1137.82,614.32 C1139.79,605.24 1141.11,594.46 1142.79,585.39 C1144.47,576.31 1145.62,570.35 1147.89,559.86 C1150.17,549.36 1153.93,533.90 1156.42,522.41 C1158.91,510.92 1160.65,497.73 1162.83,490.92 C1165.01,484.12 1167.03,483.69 1169.48,481.56 C1171.94,479.44 1174.77,477.31 1177.57,478.16 C1180.37,479.01 1183.72,482.70 1186.28,486.67 C1188.85,490.64 1191.08,497.59 1192.94,501.99 C1194.81,506.38 1195.69,507.94 1197.48,513.05 C1199.28,518.16 1201.28,525.11 1203.71,532.62 C1206.13,540.14 1209.35,548.51 1212.04,558.15 C1214.74,567.80 1216.49,580.00 1219.88,590.49 C1223.27,600.99 1228.32,611.48 1232.39,621.13 C1236.45,630.77 1240.03,641.06 1244.27,648.36 C1248.51,655.66 1254.61,661.34 1257.84,664.95 C1261.06,668.57 1258.16,667.52 1263.62,670.06 C1269.09,672.60 1277.80,678.13 1290.63,680.19 C1303.46,682.24 1316.71,682.03 1340.59,682.40 C1364.47,682.77 1418.36,682.40 1433.92,682.40" fill="none" stroke="#5b9bd5" stroke-width="4.2" stroke-linejoin="round" stroke-dasharray="13 15.5" stroke-linecap="round"/>
<path d="M1060.60,682.40 C1066.82,682.40 1089.25,682.97 1097.93,682.40 C1106.61,681.83 1108.57,680.49 1112.68,679.00 C1116.78,677.51 1117.55,677.44 1122.57,673.46 C1127.59,669.49 1136.88,662.76 1142.79,655.17 C1148.70,647.58 1153.24,636.73 1158.04,627.94 C1162.84,619.14 1167.35,611.34 1171.60,602.41 C1175.85,593.47 1179.12,584.25 1183.55,574.32 C1187.97,564.39 1192.99,551.06 1198.17,542.84 C1203.34,534.61 1208.69,525.25 1214.59,524.96 C1220.50,524.68 1228.41,534.18 1233.57,541.13 C1238.74,548.08 1241.40,558.15 1245.58,566.66 C1249.76,575.17 1254.22,583.40 1258.65,592.19 C1263.07,600.99 1267.36,610.63 1272.15,619.43 C1276.94,628.22 1281.47,637.08 1287.39,644.96 C1293.31,652.83 1299.78,661.48 1307.68,666.66 C1315.57,671.83 1324.07,673.68 1334.74,676.02 C1345.41,678.36 1355.17,679.78 1371.70,680.70 C1388.23,681.62 1423.55,681.41 1433.92,681.55" fill="none" stroke="#00b050" stroke-width="4.2" stroke-linejoin="round" stroke-dasharray="13 15.5" stroke-linecap="round"/>
<path d="M1060.60,682.40 C1070.97,682.40 1111.65,682.49 1122.82,682.40 C1133.99,682.31 1122.86,683.09 1127.61,681.89 C1132.36,680.68 1144.27,679.34 1151.32,675.17 C1158.37,671.00 1165.14,664.74 1169.92,656.87 C1174.70,649.00 1176.61,637.86 1180.00,627.94 C1183.39,618.01 1187.24,606.94 1190.27,597.30 C1193.29,587.66 1195.33,578.86 1198.17,570.07 C1201.01,561.27 1202.97,554.47 1207.31,544.54 C1211.66,534.61 1220.14,516.46 1224.24,510.50 C1228.33,504.54 1228.33,507.66 1231.89,508.80 C1235.45,509.93 1241.48,511.92 1245.58,517.31 C1249.68,522.70 1252.84,532.91 1256.47,541.13 C1260.10,549.36 1263.90,557.87 1267.36,566.66 C1270.81,575.46 1273.58,584.53 1277.19,593.90 C1280.80,603.26 1284.78,613.47 1289.01,622.83 C1293.24,632.19 1297.22,642.19 1302.57,650.06 C1307.92,657.93 1313.51,665.31 1321.12,670.06 C1328.72,674.81 1334.57,676.66 1348.18,678.57 C1361.80,680.49 1388.52,680.98 1402.81,681.55 C1417.10,682.12 1428.73,681.90 1433.92,681.97" fill="none" stroke="#ff0000" stroke-width="4.2" stroke-linejoin="round" stroke-dasharray="13 15.5" stroke-linecap="round"/>
<line x1="1060.60" y1="425.90" x2="1060.60" y2="683.70" stroke="#000" stroke-width="2.7"/>
<line x1="1054.10" y1="682.40" x2="1435.12" y2="682.40" stroke="#000" stroke-width="2.7"/>
<line x1="1054.10" y1="682.40" x2="1060.60" y2="682.40" stroke="#000" stroke-width="2.5"/>
<text x="1041.0" y="690.1" font-size="21.5" text-anchor="end">0</text>
<line x1="1054.10" y1="597.30" x2="1060.60" y2="597.30" stroke="#000" stroke-width="2.5"/>
<text x="1041.0" y="605.0" font-size="21.5" text-anchor="end">10</text>
<line x1="1054.10" y1="512.20" x2="1060.60" y2="512.20" stroke="#000" stroke-width="2.5"/>
<text x="1041.0" y="519.9" font-size="21.5" text-anchor="end">20</text>
<line x1="1054.10" y1="427.10" x2="1060.60" y2="427.10" stroke="#000" stroke-width="2.5"/>
<text x="1041.0" y="434.8" font-size="21.5" text-anchor="end">30</text>
<line x1="1060.60" y1="682.40" x2="1060.60" y2="689.40" stroke="#000" stroke-width="2.5"/>
<text x="1059.1" y="715.7" font-size="21.5" text-anchor="middle">0.1</text>
<line x1="1122.82" y1="682.40" x2="1122.82" y2="689.40" stroke="#000" stroke-width="2.5"/>
<text x="1121.3" y="715.7" font-size="21.5" text-anchor="middle">0.2</text>
<line x1="1185.04" y1="682.40" x2="1185.04" y2="689.40" stroke="#000" stroke-width="2.5"/>
<text x="1183.5" y="715.7" font-size="21.5" text-anchor="middle">0.3</text>
<line x1="1247.26" y1="682.40" x2="1247.26" y2="689.40" stroke="#000" stroke-width="2.5"/>
<text x="1245.8" y="715.7" font-size="21.5" text-anchor="middle">0.4</text>
<line x1="1309.48" y1="682.40" x2="1309.48" y2="689.40" stroke="#000" stroke-width="2.5"/>
<text x="1308.0" y="715.7" font-size="21.5" text-anchor="middle">0.5</text>
<line x1="1371.70" y1="682.40" x2="1371.70" y2="689.40" stroke="#000" stroke-width="2.5"/>
<text x="1370.2" y="715.7" font-size="21.5" text-anchor="middle">0.6</text>
<line x1="1433.92" y1="682.40" x2="1433.92" y2="689.40" stroke="#000" stroke-width="2.5"/>
<text x="1432.4" y="715.7" font-size="21.5" text-anchor="middle">0.7</text>
<text x="1127.6" y="747.2" font-size="21.5" font-weight="bold" textLength="245" lengthAdjust="spacingAndGlyphs">NAD(P)H a<tspan font-size="14" dy="4">2</tspan><tspan dy="-4">%/FAD a</tspan><tspan font-size="14" dy="4">1</tspan><tspan dy="-4">%</tspan></text>
<text x="1008.0" y="658.0" font-size="23.5" text-anchor="start" font-weight="bold" textLength="208.0" lengthAdjust="spacingAndGlyphs" transform="rotate(-90 1008.0 658.0)">Relative Frequency</text>
<text x="1059.9" y="419.7" font-size="35.5" text-anchor="start" textLength="21.2" lengthAdjust="spacingAndGlyphs">F</text>
<text x="1108.0" y="396.6" font-size="27" text-anchor="start" font-weight="bold" textLength="136.5" lengthAdjust="spacingAndGlyphs">Whole Cell</text>
<line x1="1280.40" y1="397.10" x2="1350.20" y2="397.10" stroke="#5b9bd5" stroke-width="4.2" stroke-linecap="round"/>
<text x="1358.3" y="404.6" font-size="22.5" text-anchor="start" textLength="90.5" lengthAdjust="spacingAndGlyphs">Cat1-Ctrl</text>
<line x1="1280.40" y1="423.50" x2="1350.20" y2="423.50" stroke="#00b050" stroke-width="4.2" stroke-linecap="round"/>
<text x="1358.3" y="431.0" font-size="22.5" text-anchor="start" textLength="90.5" lengthAdjust="spacingAndGlyphs">Cat2-Ctrl</text>
<line x1="1280.40" y1="449.70" x2="1350.20" y2="449.70" stroke="#ff0000" stroke-width="4.2" stroke-linecap="round"/>
<text x="1358.3" y="457.2" font-size="22.5" text-anchor="start" textLength="90.5" lengthAdjust="spacingAndGlyphs">Cat3-Ctrl</text>
<line x1="1280.40" y1="476.60" x2="1291.20" y2="476.60" stroke="#5b9bd5" stroke-width="4.2" stroke-linecap="round"/>
<line x1="1309.90" y1="476.60" x2="1320.70" y2="476.60" stroke="#5b9bd5" stroke-width="4.2" stroke-linecap="round"/>
<line x1="1339.40" y1="476.60" x2="1350.20" y2="476.60" stroke="#5b9bd5" stroke-width="4.2" stroke-linecap="round"/>
<text x="1358.3" y="484.1" font-size="22.5" text-anchor="start" textLength="102.5" lengthAdjust="spacingAndGlyphs">Cat1-Gluc</text>
<line x1="1280.40" y1="503.10" x2="1291.20" y2="503.10" stroke="#00b050" stroke-width="4.2" stroke-linecap="round"/>
<line x1="1309.90" y1="503.10" x2="1320.70" y2="503.10" stroke="#00b050" stroke-width="4.2" stroke-linecap="round"/>
<line x1="1339.40" y1="503.10" x2="1350.20" y2="503.10" stroke="#00b050" stroke-width="4.2" stroke-linecap="round"/>
<text x="1358.3" y="510.6" font-size="22.5" text-anchor="start" textLength="102.5" lengthAdjust="spacingAndGlyphs">Cat2-Gluc</text>
<line x1="1280.40" y1="528.80" x2="1291.20" y2="528.80" stroke="#ff0000" stroke-width="4.2" stroke-linecap="round"/>
<line x1="1309.90" y1="528.80" x2="1320.70" y2="528.80" stroke="#ff0000" stroke-width="4.2" stroke-linecap="round"/>
<line x1="1339.40" y1="528.80" x2="1350.20" y2="528.80" stroke="#ff0000" stroke-width="4.2" stroke-linecap="round"/>
<text x="1358.3" y="536.3" font-size="22.5" text-anchor="start" textLength="102.5" lengthAdjust="spacingAndGlyphs">Cat3-Gluc</text>
<defs><linearGradient id="cb" x1="0" y1="0" x2="0" y2="1">
<stop offset="0" stop-color="#0f5ffa"/>
<stop offset="0.092" stop-color="#0a8cf0"/>
<stop offset="0.191" stop-color="#0fafe1"/>
<stop offset="0.257" stop-color="#0fc3d2"/>
<stop offset="0.323" stop-color="#0acdc3"/>
<stop offset="0.429" stop-color="#0adc82"/>
<stop offset="0.489" stop-color="#00e146"/>
<stop offset="0.505" stop-color="#14e114"/>
<stop offset="0.587" stop-color="#64dc0a"/>
<stop offset="0.699" stop-color="#b4cd00"/>
<stop offset="0.732" stop-color="#c8cd00"/>
<stop offset="0.812" stop-color="#f0aa00"/>
<stop offset="0.891" stop-color="#fa8c00"/>
<stop offset="0.97" stop-color="#ff6e0a"/>
<stop offset="1" stop-color="#ff5f0f"/>
</linearGradient></defs>
<rect x="1477.1" y="5.2" width="36.7" height="757.6" fill="url(#cb)"/>
<text x="1506.2" y="63.5" font-size="28" text-anchor="start" textLength="38.5" lengthAdjust="spacingAndGlyphs" transform="rotate(-90 1506.2 63.5)">0.7</text>
<text x="1506.2" y="742.5" font-size="28" text-anchor="start" textLength="35.8" lengthAdjust="spacingAndGlyphs" transform="rotate(-90 1506.2 742.5)">0.1</text>
<defs>
<filter id="b2" filterUnits="userSpaceOnUse" x="-60" y="-60" width="500" height="500"><feGaussianBlur stdDeviation="2.2"/></filter>
<filter id="b4" filterUnits="userSpaceOnUse" x="-60" y="-60" width="500" height="500"><feGaussianBlur stdDeviation="4"/></filter>
<filter id="b6" filterUnits="userSpaceOnUse" x="-60" y="-60" width="500" height="500"><feGaussianBlur stdDeviation="6"/></filter>
<filter id="b7" filterUnits="userSpaceOnUse" x="-60" y="-60" width="500" height="500"><feGaussianBlur stdDeviation="7"/></filter>
<filter id="b8" filterUnits="userSpaceOnUse" x="-60" y="-60" width="500" height="500"><feGaussianBlur stdDeviation="8"/></filter>
<filter id="b10" filterUnits="userSpaceOnUse" x="-60" y="-60" width="500" height="500"><feGaussianBlur stdDeviation="10"/></filter>
<filter id="b9" filterUnits="userSpaceOnUse" x="-60" y="-60" width="500" height="500"><feGaussianBlur stdDeviation="9"/></filter>
<filter id="b12" filterUnits="userSpaceOnUse" x="-60" y="-60" width="500" height="500"><feGaussianBlur stdDeviation="12"/></filter>
<clipPath id="cg"><rect x="0" y="0" width="374" height="375.1"/></clipPath>
<clipPath id="ch"><rect x="0" y="0" width="374" height="373.7"/></clipPath>
<filter id="specG" filterUnits="userSpaceOnUse" x="0" y="0" width="374" height="374">
  <feTurbulence type="fractalNoise" baseFrequency="0.24" numOctaves="2" seed="3" result="n"/>
  <feColorMatrix in="n" type="matrix" values="0 0 0 0 0.45  0 0 0 0 0.80  0 0 0 0 0.15  0 0 0 16 -9.9" result="sp"/>
  <feGaussianBlur in="sp" stdDeviation="0.9"/>
</filter>
<filter id="specG2" filterUnits="userSpaceOnUse" x="0" y="0" width="374" height="374">
  <feTurbulence type="fractalNoise" baseFrequency="0.26" numOctaves="2" seed="11" result="n"/>
  <feColorMatrix in="n" type="matrix" values="0 0 0 0 0.82  0 0 0 0 0.70  0 0 0 0 0.08  0 0 0 16 -10.1" result="sp"/>
  <feGaussianBlur in="sp" stdDeviation="0.9"/>
</filter>
<filter id="specO" filterUnits="userSpaceOnUse" x="0" y="0" width="374" height="374">
  <feTurbulence type="fractalNoise" baseFrequency="0.22" numOctaves="2" seed="17" result="n"/>
  <feColorMatrix in="n" type="matrix" values="0 0 0 0 0.80  0 0 0 0 0.55  0 0 0 0 0.08  0 0 0 14 -8.7" result="sp"/>
  <feGaussianBlur in="sp" stdDeviation="0.8"/>
</filter>
<filter id="lowG" filterUnits="userSpaceOnUse" x="0" y="0" width="374" height="374">
  <feTurbulence type="fractalNoise" baseFrequency="0.035" numOctaves="3" seed="5" result="n"/>
  <feColorMatrix in="n" type="matrix" values="0 0 0 0 0.45  0 0 0 0 0.45  0 0 0 0 0.08  0 0 0 2.2 -0.9"/>
</filter>
<filter id="specH" filterUnits="userSpaceOnUse" x="0" y="0" width="374" height="374">
  <feTurbulence type="fractalNoise" baseFrequency="0.17" numOctaves="2" seed="7" result="n"/>
  <feColorMatrix in="n" type="matrix" values="0 0 0 0 0.30  0 0 0 0 0.72  0 0 0 0 0.76  0 0 0 12 -7.9" result="sp"/>
  <feGaussianBlur in="sp" stdDeviation="0.8"/>
</filter>
<filter id="specH2" filterUnits="userSpaceOnUse" x="0" y="0" width="374" height="374">
  <feTurbulence type="fractalNoise" baseFrequency="0.15" numOctaves="2" seed="21" result="n"/>
  <feColorMatrix in="n" type="matrix" values="0 0 0 0 0.35  0 0 0 0 0.66  0 0 0 0 0.15  0 0 0 14 -9.5" result="sp"/>
  <feGaussianBlur in="sp" stdDeviation="0.8"/>
</filter>
<filter id="specY" filterUnits="userSpaceOnUse" x="0" y="0" width="374" height="374">
  <feTurbulence type="fractalNoise" baseFrequency="0.26" numOctaves="2" seed="4" result="n"/>
  <feColorMatrix in="n" type="matrix" values="0 0 0 0 0.82  0 0 0 0 0.62  0 0 0 0 0.12  0 0 0 12 -7.3" result="sp"/>
  <feGaussianBlur in="sp" stdDeviation="0.8"/>
</filter>
<filter id="lowH" filterUnits="userSpaceOnUse" x="0" y="0" width="374" height="374">
  <feTurbulence type="fractalNoise" baseFrequency="0.03" numOctaves="3" seed="9" result="n"/>
  <feColorMatrix in="n" type="matrix" values="0 0 0 0 0.40  0 0 0 0 0.36  0 0 0 0 0.05  0 0 0 2.4 -1.0"/>
</filter>
</defs>
<g transform="translate(1520.5,5.2)"><g clip-path="url(#cg)">
<rect x="0" y="0" width="374" height="375.1" fill="#000"/>
<mask id="mgc" maskUnits="userSpaceOnUse" x="-20" y="-20" width="420" height="420">
<path d="M0.0,0.0 L268.0,-20.0 L400.0,-20.0 L400.0,400.0 L-20.0,400.0 L-20.0,259.0 L0.0,259.0 L15.0,254.0 L30.0,234.0 L37.0,210.0 L44.0,192.0 L52.0,173.0 L62.0,148.0 L72.0,128.0 L84.0,106.0 L99.0,86.0 L119.0,71.0 L148.0,58.0 L190.0,46.0 L215.0,48.0 L250.0,40.0 L266.0,22.0 L268.0,0.0 Z" fill="#fff" filter="url(#b4)"/>
</mask>
<mask id="mgh" maskUnits="userSpaceOnUse" x="-20" y="-20" width="420" height="420"><g filter="url(#b8)">
<ellipse cx="126" cy="116" rx="45" ry="39" fill="none" stroke="#fff" stroke-width="21" opacity="1.00"/>
<ellipse cx="82" cy="192" rx="34" ry="41" fill="none" stroke="#fff" stroke-width="21" opacity="0.90"/>
<ellipse cx="195" cy="176" rx="43" ry="43" fill="none" stroke="#fff" stroke-width="21" opacity="0.70"/>
<ellipse cx="292" cy="122" rx="53" ry="45" fill="none" stroke="#fff" stroke-width="21" opacity="0.90"/>
<ellipse cx="121" cy="265" rx="45" ry="41" fill="none" stroke="#fff" stroke-width="21" opacity="0.80"/>
<ellipse cx="210" cy="320" rx="51" ry="45" fill="none" stroke="#fff" stroke-width="21" opacity="1.00"/>
<ellipse cx="327" cy="300" rx="39" ry="41" fill="none" stroke="#fff" stroke-width="21" opacity="0.90"/>
<ellipse cx="10" cy="290" rx="23" ry="41" fill="none" stroke="#fff" stroke-width="21" opacity="1.00"/>
</g></mask>
<g mask="url(#mgc)">
<rect x="0" y="0" width="374" height="374" fill="#3e400c"/>
<rect x="0" y="0" width="374" height="374" fill="#fff" filter="url(#lowG)" opacity="0.5"/>
<g mask="url(#mgh)">
<rect x="0" y="0" width="374" height="374" fill="#5e9a22" opacity="0.55"/>
<rect x="0" y="0" width="374" height="374" fill="#fff" filter="url(#specG)"/>
<rect x="0" y="0" width="374" height="374" fill="#fff" filter="url(#specG2)"/>
</g>
<rect x="0" y="0" width="374" height="374" fill="#fff" filter="url(#specG2)" opacity="0.45"/>
</g>
<mask id="mgt" maskUnits="userSpaceOnUse" x="-20" y="-20" width="420" height="420"><g filter="url(#b6)">
<path d="M270.0,-5.0 C277.8,-15.8 313.3,-15.8 322.0,-5.0 C330.7,5.8 325.7,46.7 322.0,60.0 C318.3,73.3 307.8,75.0 300.0,75.0 C292.2,75.0 280.0,73.3 275.0,60.0 C270.0,46.7 262.2,5.8 270.0,-5.0 Z" fill="#fff"/>
<path d="M354.0,-5.0 C358.0,-14.2 375.7,-15.0 380.0,-5.0 C384.3,5.0 384.0,45.8 380.0,55.0 C376.0,64.2 360.3,60.0 356.0,50.0 C351.7,40.0 350.0,4.2 354.0,-5.0 Z" fill="#fff"/>
</g></mask>
<g mask="url(#mgt)"><rect x="250" y="-10" width="140" height="100" fill="#34300a"/>
<rect x="0" y="0" width="374" height="374" fill="#fff" filter="url(#specO)"/></g>
<ellipse cx="274" cy="52" rx="13" ry="11" fill="#7aa028" filter="url(#b4)" opacity="0.8"/>
<path d="M185.0,-10.0 C196.3,-19.0 255.2,-16.7 268.0,-10.0 C280.8,-3.3 266.7,21.3 262.0,30.0 C257.3,38.7 250.3,39.7 240.0,42.0 C229.7,44.3 209.2,52.7 200.0,44.0 C190.8,35.3 173.7,-1.0 185.0,-10.0 Z" fill="#000000" filter="url(#b6)"/>
<path d="M320.0,-10.0 C326.2,-20.0 348.8,-18.3 355.0,-10.0 C361.2,-1.7 357.5,23.7 357.0,40.0 C356.5,56.3 356.2,79.0 352.0,88.0 C347.8,97.0 337.7,100.3 332.0,94.0 C326.3,87.7 320.0,67.3 318.0,50.0 C316.0,32.7 313.8,0.0 320.0,-10.0 Z" fill="#080802" filter="url(#b6)"/>
<path d="M292.0,66.0 C297.7,62.7 315.3,60.3 330.0,60.0 C344.7,59.7 371.7,60.0 380.0,64.0 C388.3,68.0 388.3,80.0 380.0,84.0 C371.7,88.0 344.0,88.7 330.0,88.0 C316.0,87.3 302.3,83.7 296.0,80.0 C289.7,76.3 286.3,69.3 292.0,66.0 Z" fill="#1c1a06" filter="url(#b9)"/>
<path d="M233.0,78.0 C235.5,71.0 242.5,67.7 245.0,78.0 C247.5,88.3 247.0,125.0 248.0,140.0 C249.0,155.0 249.7,159.3 251.0,168.0 C252.3,176.7 253.2,185.8 256.0,192.0 C258.8,198.2 260.7,201.3 268.0,205.0 C275.3,208.7 292.3,210.2 300.0,214.0 C307.7,217.8 311.2,221.7 314.0,228.0 C316.8,234.3 319.3,243.3 317.0,252.0 C314.7,260.7 305.8,274.2 300.0,280.0 C294.2,285.8 291.7,286.8 282.0,287.0 C272.3,287.2 254.3,283.5 242.0,281.0 C229.7,278.5 214.7,277.8 208.0,272.0 C201.3,266.2 201.5,257.7 202.0,246.0 C202.5,234.3 207.0,215.0 211.0,202.0 C215.0,189.0 222.8,181.7 226.0,168.0 C229.2,154.3 228.8,135.0 230.0,120.0 C231.2,105.0 230.5,85.0 233.0,78.0 Z" fill="#0c0c03" filter="url(#b4)"/>
<path d="M252.0,172.0 C256.7,168.3 279.3,178.3 290.0,184.0 C300.7,189.7 314.3,201.0 316.0,206.0 C317.7,211.0 309.0,214.0 300.0,214.0 C291.0,214.0 270.0,213.0 262.0,206.0 C254.0,199.0 247.3,175.7 252.0,172.0 Z" fill="#3a3610" filter="url(#b8)"/>
<path d="M112.0,198.0 C109.7,191.7 112.7,177.3 116.0,168.0 C119.3,158.7 124.7,148.7 132.0,142.0 C139.3,135.3 150.7,132.0 160.0,128.0 C169.3,124.0 185.3,114.7 188.0,118.0 C190.7,121.3 179.7,138.5 176.0,148.0 C172.3,157.5 170.0,167.0 166.0,175.0 C162.0,183.0 158.0,190.8 152.0,196.0 C146.0,201.2 136.7,205.7 130.0,206.0 C123.3,206.3 114.3,204.3 112.0,198.0 Z" fill="#2a2809" filter="url(#b9)"/>
<path d="M35.0,318.0 C41.7,307.2 60.0,305.0 70.0,305.0 C80.0,305.0 91.7,308.8 95.0,318.0 C98.3,327.2 95.8,349.7 90.0,360.0 C84.2,370.3 70.0,378.3 60.0,380.0 C50.0,381.7 34.2,380.3 30.0,370.0 C25.8,359.7 28.3,328.8 35.0,318.0 Z" fill="#24220a" filter="url(#b10)"/>
<path d="M150.0,300.0 C155.0,293.8 175.8,293.0 180.0,298.0 C184.2,303.0 180.0,323.8 175.0,330.0 C170.0,336.2 154.2,340.0 150.0,335.0 C145.8,330.0 145.0,306.2 150.0,300.0 Z" fill="#262408" filter="url(#b7)"/>
<ellipse cx="126" cy="116" rx="31" ry="26" fill="#643e16" filter="url(#b4)" opacity="0.85"/>
<ellipse cx="81" cy="189" rx="21" ry="27" fill="#643e16" filter="url(#b4)" opacity="0.85"/>
<ellipse cx="195" cy="176" rx="29" ry="29" fill="#643e16" filter="url(#b4)" opacity="0.85"/>
<ellipse cx="294" cy="121" rx="37" ry="31" fill="#643e16" filter="url(#b4)" opacity="0.85"/>
<ellipse cx="121" cy="264" rx="30" ry="27" fill="#643e16" filter="url(#b4)" opacity="0.85"/>
<ellipse cx="213" cy="320" rx="33" ry="29" fill="#643e16" filter="url(#b4)" opacity="0.85"/>
<ellipse cx="330" cy="302" rx="26" ry="23" fill="#643e16" filter="url(#b4)" opacity="0.85"/>
<ellipse cx="298" cy="360" rx="28" ry="18" fill="#643e16" filter="url(#b4)" opacity="0.85"/>
<rect x="141" y="363" width="10" height="9" fill="#30c8e0" filter="url(#b2)"/>
</g>
<text x="21.5" y="55.8" font-size="36.5" fill="#fff">G</text>
</g>
<g transform="translate(1520.5,389.3)"><g clip-path="url(#ch)">
<rect x="0" y="0" width="374" height="374" fill="#153a42"/>
<rect x="0" y="0" width="374" height="374" fill="#fff" filter="url(#lowH)" opacity="0.55"/>
<mask id="mht" maskUnits="userSpaceOnUse" x="-20" y="-20" width="420" height="420"><g filter="url(#b12)">
<ellipse cx="20" cy="210" rx="60" ry="50" fill="#fff" opacity="1.00"/>
<ellipse cx="120" cy="125" rx="55" ry="55" fill="#fff" opacity="0.90"/>
<ellipse cx="186" cy="172" rx="50" ry="50" fill="#fff" opacity="0.80"/>
<ellipse cx="300" cy="140" rx="60" ry="50" fill="#fff" opacity="0.80"/>
<ellipse cx="135" cy="262" rx="55" ry="50" fill="#fff" opacity="0.90"/>
<ellipse cx="130" cy="350" rx="55" ry="30" fill="#fff" opacity="1.00"/>
<ellipse cx="250" cy="310" rx="30" ry="40" fill="#fff" opacity="0.90"/>
<ellipse cx="335" cy="290" rx="50" ry="40" fill="#fff" opacity="0.80"/>
<ellipse cx="230" cy="100" rx="40" ry="40" fill="#fff" opacity="0.70"/>
<ellipse cx="345" cy="215" rx="30" ry="40" fill="#fff" opacity="0.70"/>
</g></mask>
<g mask="url(#mht)">
<rect x="0" y="0" width="374" height="374" fill="#2f9284" opacity="0.55"/>
<rect x="0" y="0" width="374" height="374" fill="#fff" filter="url(#specH)"/>
<rect x="0" y="0" width="374" height="374" fill="#fff" filter="url(#specH2)"/>
</g>
<rect x="0" y="0" width="374" height="374" fill="#fff" filter="url(#specH2)" opacity="0.35"/>
<path d="M-20.0,-20.0 C25.8,-66.7 210.0,-30.0 255.0,-20.0 C300.0,-10.0 259.2,26.3 250.0,40.0 C240.8,53.7 216.7,57.0 200.0,62.0 C183.3,67.0 165.0,66.2 150.0,70.0 C135.0,73.8 121.7,76.7 110.0,85.0 C98.3,93.3 88.3,107.5 80.0,120.0 C71.7,132.5 67.5,146.7 60.0,160.0 C52.5,173.3 43.3,186.7 35.0,200.0 C26.7,213.3 19.2,230.0 10.0,240.0 C0.8,250.0 -15.0,303.3 -20.0,260.0 C-25.0,216.7 -65.8,26.7 -20.0,-20.0 Z" fill="#0c2a34" filter="url(#b12)" opacity="0.85"/>
<path d="M355.0,-20.0 C360.3,-35.3 387.5,-35.8 394.0,-20.0 C400.5,-4.2 399.3,59.7 394.0,75.0 C388.7,90.3 368.5,87.8 362.0,72.0 C355.5,56.2 349.7,-4.7 355.0,-20.0 Z" fill="#0e2c30" filter="url(#b8)" opacity="0.85"/>
<path d="M244.0,130.0 C246.7,120.0 257.3,120.0 262.0,130.0 C266.7,140.0 269.0,168.3 272.0,190.0 C275.0,211.7 280.3,245.0 280.0,260.0 C279.7,275.0 274.2,283.3 270.0,280.0 C265.8,276.7 259.0,255.0 255.0,240.0 C251.0,225.0 247.8,208.3 246.0,190.0 C244.2,171.7 241.3,140.0 244.0,130.0 Z" fill="#0d2a2c" filter="url(#b8)" opacity="0.85"/>
<path d="M221.0,192.0 C232.3,185.3 285.2,186.2 300.0,190.0 C314.8,193.8 311.3,205.0 310.0,215.0 C308.7,225.0 296.5,237.7 292.0,250.0 C287.5,262.3 288.0,285.7 283.0,289.0 C278.0,292.3 270.5,279.8 262.0,270.0 C253.5,260.2 238.8,243.0 232.0,230.0 C225.2,217.0 209.7,198.7 221.0,192.0 Z" fill="#10302c" filter="url(#b9)" opacity="0.85"/>
<path d="M148.0,285.0 C155.3,279.7 182.0,282.2 190.0,288.0 C198.0,293.8 199.3,311.7 196.0,320.0 C192.7,328.3 178.3,338.0 170.0,338.0 C161.7,338.0 149.7,328.8 146.0,320.0 C142.3,311.2 140.7,290.3 148.0,285.0 Z" fill="#0e2a30" filter="url(#b9)" opacity="0.85"/>
<path d="M28.0,300.0 C39.7,292.7 78.0,289.3 90.0,296.0 C102.0,302.7 100.0,325.2 100.0,340.0 C100.0,354.8 101.7,377.5 90.0,385.0 C78.3,392.5 41.7,392.5 30.0,385.0 C18.3,377.5 20.3,354.2 20.0,340.0 C19.7,325.8 16.3,307.3 28.0,300.0 Z" fill="#102a2c" filter="url(#b10)" opacity="0.85"/>
<path d="M-20.0,185.0 C-14.3,152.5 8.0,172.5 14.0,185.0 C20.0,197.5 16.3,227.5 16.0,260.0 C15.7,292.5 18.0,360.0 12.0,380.0 C6.0,400.0 -14.7,412.5 -20.0,380.0 C-25.3,347.5 -25.7,217.5 -20.0,185.0 Z" fill="#0c2630" filter="url(#b8)" opacity="0.85"/>
<mask id="mhy" maskUnits="userSpaceOnUse" x="-20" y="-20" width="420" height="420">
<path d="M262.0,5.0 C266.7,-5.0 277.0,-3.3 290.0,-5.0 C303.0,-6.7 329.0,-9.2 340.0,-5.0 C351.0,-0.8 354.0,10.8 356.0,20.0 C358.0,29.2 355.5,40.3 352.0,50.0 C348.5,59.7 343.7,71.0 335.0,78.0 C326.3,85.0 310.5,91.3 300.0,92.0 C289.5,92.7 278.3,88.2 272.0,82.0 C265.7,75.8 263.7,67.8 262.0,55.0 C260.3,42.2 257.3,15.0 262.0,5.0 Z" fill="#fff" filter="url(#b4)"/>
</mask>
<g mask="url(#mhy)">
<rect x="250" y="-10" width="120" height="110" fill="#4a641c"/>
<rect x="0" y="0" width="374" height="374" fill="#fff" filter="url(#specY)"/>
</g>
<ellipse cx="306" cy="35" rx="22" ry="18" fill="#3a4a20" filter="url(#b6)" opacity="0.6"/>
<ellipse cx="121.8" cy="122.5" rx="28" ry="32" fill="#4a3a1a" filter="url(#b4)" opacity="0.8"/>
<ellipse cx="296.6" cy="137.5" rx="38" ry="33" fill="#4a3a1a" filter="url(#b4)" opacity="0.8"/>
<ellipse cx="186.7" cy="172.5" rx="30" ry="30" fill="#4a3a1a" filter="url(#b4)" opacity="0.8"/>
<ellipse cx="71.9" cy="200" rx="24" ry="30" fill="#4a3a1a" filter="url(#b4)" opacity="0.8"/>
<ellipse cx="135.4" cy="262.3" rx="33" ry="30" fill="#4a3a1a" filter="url(#b4)" opacity="0.8"/>
<ellipse cx="335" cy="292" rx="32" ry="22" fill="#4a3a1a" filter="url(#b4)" opacity="0.8"/>
<ellipse cx="234" cy="344" rx="37" ry="25" fill="#4a3a1a" filter="url(#b4)" opacity="0.8"/>
<path d="M24,163 L34,159 L40,168 L37,177 L27,176 Z" fill="#40d0e8" filter="url(#b2)"/>
</g>
<rect x="14.6" y="16.7" width="42" height="39" fill="#000"/>
<text x="24" y="47.4" font-size="35.5" fill="#fff">H</text>
<rect x="278.5" y="344.7" width="71" height="8" fill="#fff"/>
<text x="278.6" y="335.6" font-size="21.5" fill="#fff" textLength="63.5" lengthAdjust="spacingAndGlyphs">20 µm</text>
</g>
</svg>
</body></html>
